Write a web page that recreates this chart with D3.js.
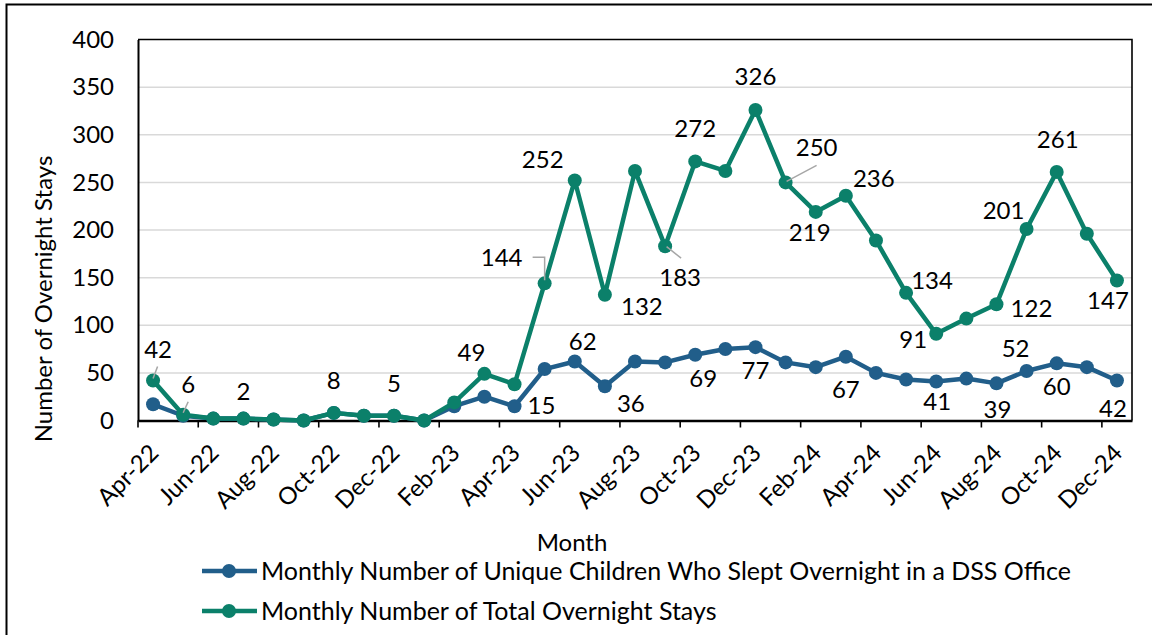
<!DOCTYPE html>
<html>
<head>
<meta charset="utf-8">
<script src="https://cdn.jsdelivr.net/npm/d3@7"></script>
<style>
  html, body { margin: 0; padding: 0; background: #fff; }
  svg { display: block; font-family: "Lato", sans-serif; }
</style>
</head>
<body>
<svg id="chart" width="1152" height="635"></svg>
<script>
// ---------- DATA ----------
const months = ["Apr-22","May-22","Jun-22","Jul-22","Aug-22","Sep-22","Oct-22","Nov-22","Dec-22","Jan-23","Feb-23","Mar-23",
  "Apr-23","May-23","Jun-23","Jul-23","Aug-23","Sep-23","Oct-23","Nov-23","Dec-23","Jan-24","Feb-24","Mar-24",
  "Apr-24","May-24","Jun-24","Jul-24","Aug-24","Sep-24","Oct-24","Nov-24","Dec-24"];
const uniqueChildren = [17,5,2,2,1,0,8,5,5,0,15,25,15,54,62,36,62,61,69,75,77,61,56,67,50,43,41,44,39,52,60,56,42];
const totalStays     = [42,6,2,2,1,0,8,5,5,0,19,49,38,144,252,132,262,183,272,262,326,250,219,236,189,134,91,107,122,201,261,196,147];
const yTicks = [0,50,100,150,200,250,300,350,400];
const seriesNames = ["Monthly Number of Unique Children Who Slept Overnight in a DSS Office",
                     "Monthly Number of Total Overnight Stays"];
const axisTitleY = "Number of Overnight Stays";
const axisTitleX = "Month";

// ---------- LABEL PLACEMENT (offsets from point, px) ----------
const totalLabelPos = [
  {i:0,  dx:5,   dy:-31, leader:[[0,-2],[4.5,-14]]},
  {i:1,  dx:5,   dy:-30, leader:[[0,-2],[5,-13]]},
  {i:3,  dx:0,   dy:-27},
  {i:6,  dx:0,   dy:-32},
  {i:8,  dx:0,   dy:-32},
  {i:11, dx:-13, dy:-21},
  {i:13, dx:-43, dy:-26, leader:[[0,-3],[0,-26],[-12,-26]]},
  {i:14, dx:-32, dy:-21},
  {i:15, dx:37,  dy:12},
  {i:17, dx:15,  dy:31, leader:[[1.5,0.5],[16,12]]},
  {i:18, dx:0,   dy:-33},
  {i:20, dx:0,   dy:-33},
  {i:21, dx:31,  dy:-35, leader:[[1,-1],[31,-17]]},
  {i:22, dx:-6,  dy:21},
  {i:23, dx:28,  dy:-17},
  {i:25, dx:26,  dy:-12},
  {i:26, dx:-23, dy:6},
  {i:28, dx:35,  dy:4},
  {i:29, dx:-23, dy:-18},
  {i:30, dx:1,   dy:-32},
  {i:32, dx:-9,  dy:20.5}
];
const uniqueLabelPos = [
  {i:12, dx:27, dy:-1},
  {i:14, dx:8,  dy:-20},
  {i:15, dx:26, dy:17},
  {i:18, dx:8,  dy:23.5},
  {i:20, dx:0,  dy:23},
  {i:23, dx:0,  dy:33},
  {i:26, dx:1,  dy:20},
  {i:28, dx:1,  dy:26},
  {i:29, dx:-11,dy:-22},
  {i:30, dx:0,  dy:23},
  {i:32, dx:-4, dy:28}
];

// ---------- STYLE ----------
const colUnique = "#215e8a";
const colTotal  = "#0b806a";
const fontSize = 24;
const legendFontSize = 25;
const fontFam = "Lato, sans-serif";

const svg = d3.select("#chart");
const L = 138, R = 1132, T = 39.5, B = 420.5;

// outer frame
svg.append("rect").attr("x",6.5).attr("y",4.5).attr("width",1300).attr("height",800)
  .attr("fill","none").attr("stroke","#000").attr("stroke-width",2);

const x = d3.scaleBand().domain(months).range([L, R]).padding(0);
const bw = x.bandwidth();
const cx = m => x(m) + bw/2;
const y = d3.scaleLinear().domain([0, 400]).range([B, T]);

// gridlines
svg.append("g").selectAll("line").data(yTicks.filter(t => t > 0 && t < 400)).join("line")
  .attr("x1", L).attr("x2", R).attr("y1", d => y(d)).attr("y2", d => y(d))
  .attr("stroke", "#d9d9d9").attr("stroke-width", 1.5);

// plot border top/right
svg.append("path").attr("d", `M${L},${T}H${R}V${B}`).attr("fill","none")
  .attr("stroke","#000").attr("stroke-width",1.6);

// y axis
const yAxis = svg.append("g").attr("transform", `translate(${L},0)`)
  .call(d3.axisLeft(y).tickValues(yTicks).tickSize(0).tickPadding(24));
yAxis.select(".domain").attr("stroke","#000").attr("stroke-width",2);
yAxis.selectAll("text").attr("font-size", fontSize).attr("fill","#000")
  .attr("font-family", fontFam);

// x axis
const xAxis = svg.append("g").attr("transform", `translate(0,${B})`)
  .call(d3.axisBottom(x).tickValues(months.filter((m,i) => i % 2 === 0)).tickSize(7).tickSizeOuter(0));
xAxis.select(".domain").attr("stroke","#000").attr("stroke-width",2.5);
xAxis.selectAll(".tick line").attr("x1", -bw/2).attr("x2", -bw/2).attr("stroke","#000").attr("stroke-width",1.6);
xAxis.selectAll(".tick text").attr("x",0).attr("y",0).attr("dy",0)
  .attr("text-anchor","end").attr("transform","translate(7,34) rotate(-45)")
  .attr("font-size", fontSize).attr("fill","#000").attr("font-family", fontFam);

// axis titles
svg.append("text").attr("transform","translate(44,299) rotate(-90)")
  .attr("text-anchor","middle").attr("dy","0.35em").attr("font-size",fontSize).text(axisTitleY);
svg.append("text").attr("x",572).attr("y",543).attr("text-anchor","middle").attr("dy","0.35em")
  .attr("font-size",fontSize).text(axisTitleX);

// lines
const line = d3.line().x((d,i) => cx(months[i])).y(d => y(d));
function drawSeries(vals, col) {
  const g = svg.append("g");
  g.append("path").datum(vals).attr("d", line).attr("fill","none")
    .attr("stroke", col).attr("stroke-width", 4.5).attr("stroke-linejoin","round");
  g.selectAll("circle").data(vals).join("circle")
    .attr("cx", (d,i) => cx(months[i])).attr("cy", d => y(d)).attr("r", 7).attr("fill", col);
}
drawSeries(uniqueChildren, colUnique);
drawSeries(totalStays, colTotal);

// data labels
function drawLabels(vals, specs) {
  const g = svg.append("g");
  specs.forEach(s => {
    const px = cx(months[s.i]), py = y(vals[s.i]);
    if (s.leader) {
      g.append("polyline").attr("points", s.leader.map(p => `${px+p[0]},${py+p[1]}`).join(" "))
        .attr("fill","none").attr("stroke","#a6a6a6").attr("stroke-width",1.5);
    }
    g.append("text").attr("x", px + s.dx).attr("y", py + s.dy).attr("dy","0.35em")
      .attr("text-anchor","middle").attr("font-size", fontSize).attr("fill","#000").text(vals[s.i]);
  });
}
drawLabels(totalStays, totalLabelPos);
drawLabels(uniqueChildren, uniqueLabelPos);

// legend
const legend = svg.append("g");
[[colUnique, seriesNames[0], 571],[colTotal, seriesNames[1], 611]].forEach(([c, name, ly]) => {
  legend.append("line").attr("x1",202).attr("x2",257).attr("y1",ly).attr("y2",ly)
    .attr("stroke",c).attr("stroke-width",4.5);
  legend.append("circle").attr("cx",229).attr("cy",ly).attr("r",7).attr("fill",c);
  legend.append("text").attr("x",261).attr("y",ly).attr("dy","0.35em")
    .attr("font-size",legendFontSize).attr("fill","#000").text(name);
});
</script>
</body>
</html>
